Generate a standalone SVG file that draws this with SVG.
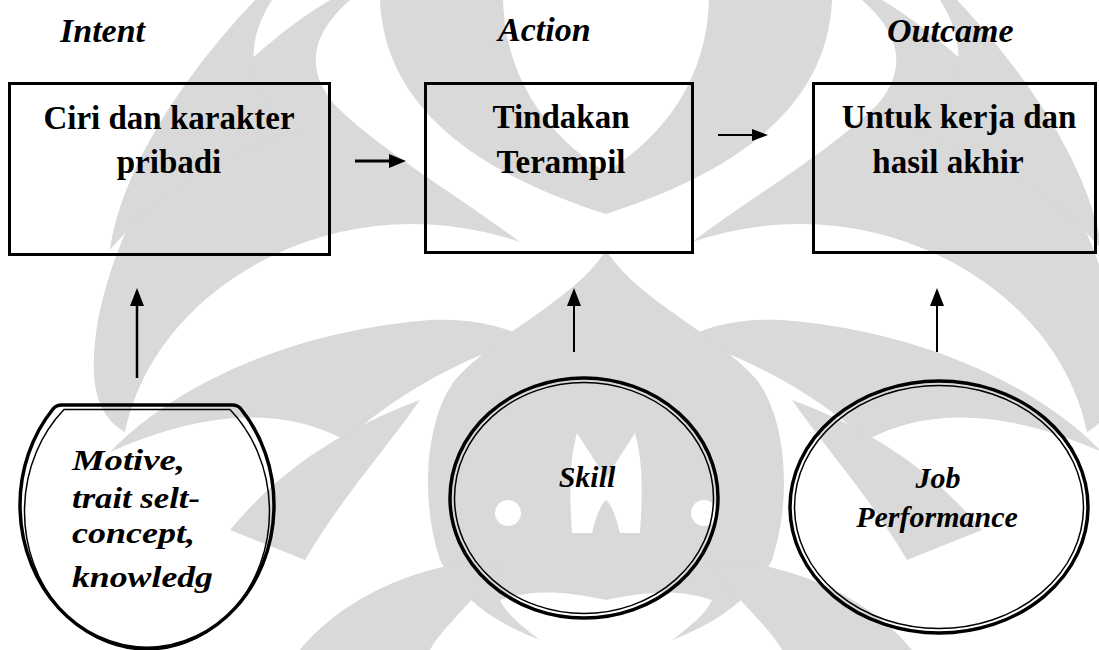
<svg xmlns="http://www.w3.org/2000/svg" width="1099" height="650" viewBox="0 0 1099 650">
  <style>
    .wm { fill: #d9d9d9; stroke: none; }
    .wh { fill: #fff; stroke: none; }
    .box { fill: none; stroke: #000; stroke-width: 3; }
    .outer { fill: none; stroke: #000; stroke-width: 3.5; }
    .inner { fill: none; stroke: #000; stroke-width: 1.5; }
    .hdr { font-family: "Liberation Serif", "Times New Roman", serif; font-weight: bold; font-style: italic; font-size: 34px; fill: #000; }
    .lbl { font-family: "Liberation Serif", "Times New Roman", serif; font-weight: bold; font-size: 33px; fill: #000; text-anchor: middle; }
    .cl { font-family: "Liberation Serif", "Times New Roman", serif; font-weight: bold; font-style: italic; font-size: 30px; fill: #000; }
    .conn { stroke: #000; fill: none; }
    .head { fill: #000; stroke: none; }
  </style>
  <rect width="1099" height="650" fill="#fff"/>

  <defs>
    <g id="wm-half">
      <path class="wm" d="M380,0 L503,0 C505,75 545,135 606,172 L606,214 C500,180 385,120 380,0 Z"/>
      <path class="wm" d="M330,0 C230,60 125,180 98,320 C88,380 95,415 125,432 C140,360 190,300 260,262 C340,220 430,212 520,242 C450,190 380,150 335,105 C305,70 310,35 350,0 Z"/>
      <path class="wm" d="M255,0 C170,90 120,180 110,250 C160,190 230,150 300,130 C250,100 240,50 272,0 Z"/>
      <path class="wm" d="M110,452 C180,380 300,330 430,320 C470,318 505,326 525,338 C460,360 400,392 345,440 C280,405 200,412 110,452 Z"/>
      <path class="wm" d="M606,250 C575,300 500,330 455,380 C425,420 420,500 440,560 C460,600 500,625 540,640 L606,640 Z"/>
      <path class="wm" d="M300,650 C340,600 420,560 505,560 C475,600 440,630 430,650 Z"/>
      <path class="wm" d="M230,530 C280,470 340,430 420,400 C385,450 340,500 305,560 Z"/>
      <circle class="wh" cx="508" cy="513" r="13"/>
      <path class="wh" d="M577,433 L606,478 L606,500 C600,505 595,520 592,533 L572,533 C570,500 568,465 577,433 Z"/>
      <path class="wh" d="M500,600 C530,590 560,590 606,600 L606,640 L540,640 C520,625 505,612 500,600 Z"/>
    </g>
  </defs>

  <g id="watermark">
    <use href="#wm-half"/>
    <use href="#wm-half" transform="translate(1212,0) scale(-1,1)"/>
  </g>

  <g id="headers">
    <text class="hdr" x="60" y="42">Intent</text>
    <text class="hdr" x="498" y="41">Action</text>
    <text class="hdr" x="887" y="42">Outcame</text>
  </g>

  <g id="node-ciri">
    <rect class="box" x="9.5" y="83.5" width="320" height="171"/>
    <text class="lbl" x="169" y="129">Ciri dan karakter</text>
    <text class="lbl" x="169" y="173">pribadi</text>
  </g>
  <g id="node-tindakan">
    <rect class="box" x="425.5" y="83.5" width="267" height="169"/>
    <text class="lbl" x="561" y="128">Tindakan</text>
    <text class="lbl" x="561" y="173">Terampil</text>
  </g>
  <g id="node-untuk">
    <rect class="box" x="813.5" y="83.5" width="282" height="169"/>
    <text class="lbl" x="959" y="128">Untuk kerja dan</text>
    <text class="lbl" x="948" y="173">hasil akhir</text>
  </g>

  <g id="node-motive">
    <path class="outer" d="M62,405 L232,405 Q238,405 241,409 A127,143 0 1 1 53,409 Q56,405 62,405 Z"/>
    <path class="inner" d="M64,409.5 L230,409.5 A122.5,138.5 0 1 1 64,409.5 Z"/>
    <text class="cl" x="72" y="470" textLength="113" lengthAdjust="spacingAndGlyphs">Motive,</text>
    <text class="cl" x="72" y="508" textLength="128" lengthAdjust="spacingAndGlyphs">trait selt-</text>
    <text class="cl" x="72" y="543" textLength="123" lengthAdjust="spacingAndGlyphs">concept,</text>
    <text class="cl" x="72" y="587" textLength="141" lengthAdjust="spacingAndGlyphs">knowledg</text>
  </g>
  <g id="node-skill">
    <ellipse class="outer" cx="584" cy="498" rx="134" ry="120"/>
    <ellipse class="inner" cx="584" cy="498" rx="129.5" ry="115.5"/>
    <text class="cl" x="587" y="487" text-anchor="middle">Skill</text>
  </g>
  <g id="node-job">
    <ellipse class="outer" cx="939" cy="507" rx="149" ry="126"/>
    <ellipse class="inner" cx="939" cy="507" rx="144.5" ry="121.5"/>
    <text class="cl" x="938" y="488" text-anchor="middle">Job</text>
    <text class="cl" x="937" y="527" text-anchor="middle">Performance</text>
  </g>

  <g id="connectors">
    <line class="conn" x1="355" y1="161" x2="392" y2="161" stroke-width="3"/>
    <polygon class="head" points="389,154 406,161 389,168"/>
    <line class="conn" x1="718" y1="135" x2="755" y2="135" stroke-width="2"/>
    <polygon class="head" points="752,129 768,135 752,141"/>
    <line class="conn" x1="137" y1="378" x2="137" y2="302" stroke-width="2.5"/>
    <polygon class="head" points="130,306 137,288 144,306"/>
    <line class="conn" x1="574" y1="352" x2="574" y2="302" stroke-width="2"/>
    <polygon class="head" points="567,306 574,288 581,306"/>
    <line class="conn" x1="937" y1="352" x2="937" y2="302" stroke-width="2"/>
    <polygon class="head" points="930,306 937,288 944,306"/>
  </g>
</svg>
